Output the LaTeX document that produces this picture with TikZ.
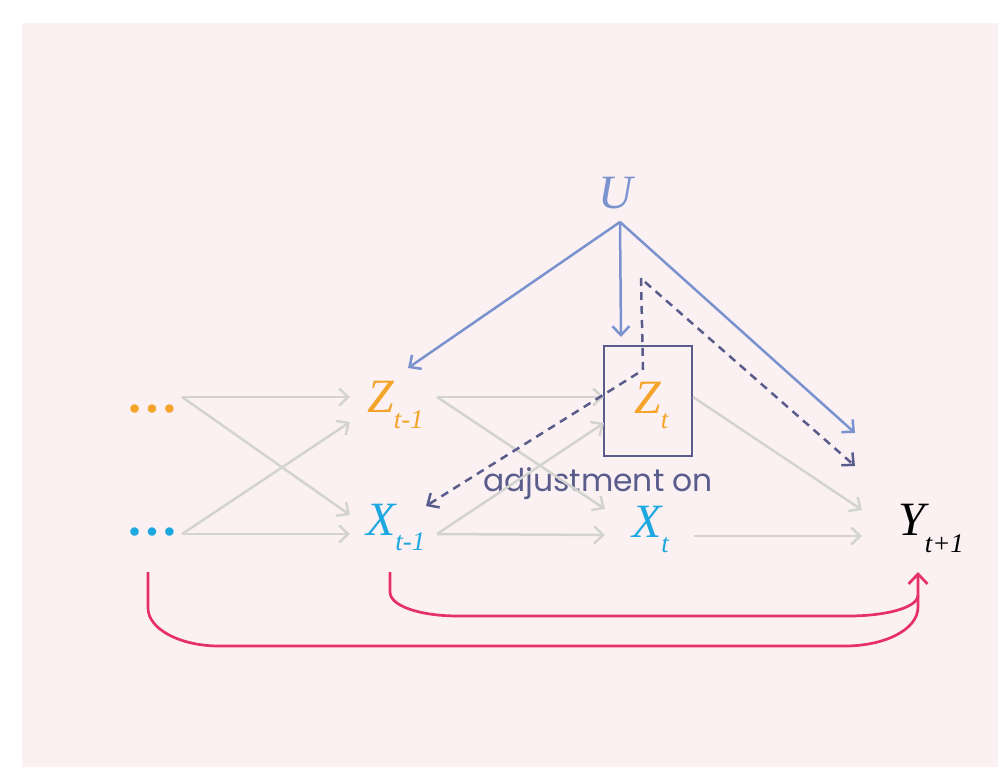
\documentclass[tikz,border=0pt]{standalone}
\usepackage{fontspec}
\usetikzlibrary{arrows.meta}
\newfontfamily\tms{Liberation Serif}
\newfontfamily\pop{Poppins}
\definecolor{bgpink}{HTML}{FBF1F3}
\definecolor{zorange}{HTML}{F4A42A}
\definecolor{xblue}{HTML}{1EA8E0}
\definecolor{ublue}{HTML}{7A92CD}
\definecolor{darkv}{HTML}{5A5C8C}
\definecolor{gline}{HTML}{D3D4D0}
\definecolor{pinkl}{HTML}{E5306A}
\newcommand\subx[2]{\raisebox{-#1}{\fontsize{27}{27}\selectfont #2}}
\begin{document}
\begin{tikzpicture}[x=1bp,y=-1bp,
  lbl/.style={inner sep=0, anchor=base west, font=\tms\itshape\fontsize{48}{48}\selectfont},
  dots/.style={inner sep=0, anchor=base west, font=\tms\bfseries\fontsize{52}{52}\selectfont},
  tip/.style={-{Straight Barb[length=9bp,width=17bp]}},
  garrow/.style={tip, draw=gline, line width=2.5bp},
  barrow/.style={tip, draw=ublue, line width=2.5bp},
  darrow/.style={tip, draw=darkv, line width=2.5bp, dash pattern=on 8bp off 6bp},
  parrow/.style={draw=pinkl, line width=2.7bp}]
\fill[white] (0,0) rectangle (998,767);
\fill[bgpink] (22,23) rectangle (998,767);
\useasboundingbox (0,0) rectangle (998,767);

% nodes
\node[dots, text=zorange] (dz) at (126,412) {…};
\node[dots, text=xblue] (dx) at (126,535) {…};
\node[lbl, text=zorange] (zt1) at (367,412) {Z\subx{16bp}{t-1}};
\node[lbl, text=xblue] (xt1) at (366,535) {X\subx{15bp}{t-1}};
\node[lbl, text=zorange] (zt) at (634,413) {Z\subx{15bp}{t}};
\node[lbl, text=xblue] (xt) at (632,537) {X\subx{15bp}{t}};
\node[lbl, text=black] (y) at (898,535) {Y\subx{17bp}{t+1}};
\node[lbl, text=ublue] (u) at (598,208) {U};
\node[draw=darkv, line width=2.4bp, minimum width=88bp, minimum height=110bp, inner sep=0] (box) at (648,401) {};
\node[inner sep=0, anchor=base, text=darkv, font=\pop\fontsize{31.5}{31.5}\selectfont] (adj) at (598,491) {adjustment on};

% anchor coordinates
\coordinate (dzo) at (182,397);
\coordinate (dxo) at (182,534);
\coordinate (zt1i) at (350,397);
\coordinate (zt1j) at (350,422);
\coordinate (xt1i) at (350,515);
\coordinate (xt1j) at (350,534);
\coordinate (zt1o) at (437,397);
\coordinate (xt1o) at (437,534);
\coordinate (zti) at (604,397);
\coordinate (ztj) at (604,423);
\coordinate (xti) at (605,509);
\coordinate (xtj) at (605,535);
\coordinate (zto) at (693,397);
\coordinate (xto) at (694,536);
\coordinate (yi) at (862,510);
\coordinate (yj) at (862,536);
\coordinate (uo) at (620,222);
\coordinate (zt1u) at (408,368);
\coordinate (boxu) at (621,337);
\coordinate (yu) at (855,433);
\coordinate (dtop1) at (641,278);
\coordinate (dmid) at (643,370);
\coordinate (xt1d) at (426,506);
\coordinate (dtop2) at (645,282);
\coordinate (yd) at (855,466);
\coordinate (p1) at (148,572);
\coordinate (p2) at (390,572);
\coordinate (ytip) at (918,572);

% gray arrows
\draw[garrow] (dzo) -- (zt1i);
\draw[garrow] (dzo) -- (xt1i);
\draw[garrow] (dxo) -- (zt1j);
\draw[garrow] (dxo) -- (xt1j);
\draw[garrow] (zt1o) -- (zti);
\draw[garrow] (zt1o) -- (xti);
\draw[garrow] (xt1o) -- (ztj);
\draw[garrow] (xt1o) -- (xtj);
\draw[garrow] (zto) -- (yi);
\draw[garrow] (xto) -- (yj);

% blue arrows from U
\draw[barrow] (uo) -- (zt1u);
\draw[barrow] (uo) -- (boxu);
\draw[barrow] (uo) -- (yu);

% dashed backdoor
\draw[darrow] (dtop1) -- (dmid) -- (xt1d);
\draw[darrow] (dtop2) -- (yd);

% pink arrows
\draw[parrow, -{Straight Barb[length=10bp,width=19bp]}] (p1) -- (148,608) .. controls (148,629) and (180,646) .. (219,646) -- (845,646) .. controls (884,646) and (918,630) .. (918,607) -- (ytip);
\draw[parrow] (p2) -- (390,592) .. controls (390,606) and (420,616) .. (458,616) -- (848,616) .. controls (885,616) and (918,608) .. (918,595);
\end{tikzpicture}
\end{document}
